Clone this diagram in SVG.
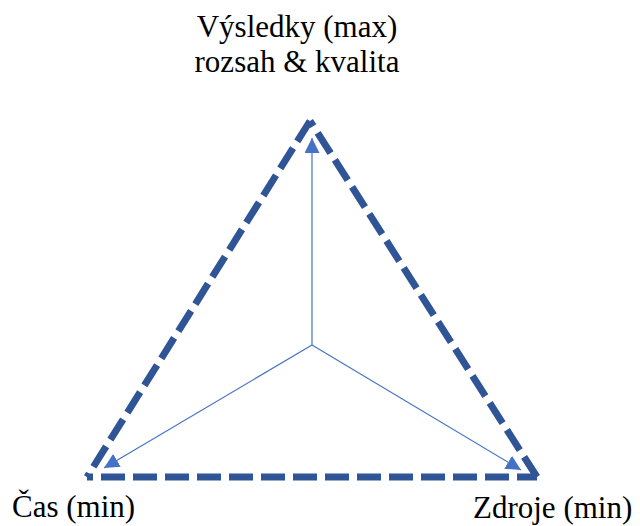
<svg xmlns="http://www.w3.org/2000/svg" width="640" height="526" viewBox="0 0 640 526">
<style>
.lbl{font-family:"Liberation Serif","Times New Roman",serif;font-size:31px;fill:#000}
.tri{fill:none;stroke:#2F5597;stroke-width:7;stroke-dasharray:24 8}
.ax{stroke:#4472C4;stroke-width:1.2;fill:none}
</style>
<defs>
<marker id="ah" viewBox="0 0 10 10" refX="10" refY="5" markerWidth="15" markerHeight="15" markerUnits="userSpaceOnUse" orient="auto">
<path d="M0,0 L10,5 L0,10 Z" fill="#4472C4"/>
</marker>
</defs>
<g id="triangle">
<path class="tri" d="M87,477 L537,477" stroke-dashoffset="18"/>
<path class="tri" d="M537,477 L310,121"/>
<path class="tri" d="M310,121 L87,477"/>
</g>
<g id="connectors">
<line class="ax" x1="312" y1="345" x2="312" y2="138" marker-end="url(#ah)"/>
<line class="ax" x1="312" y1="345" x2="104" y2="468" marker-end="url(#ah)"/>
<line class="ax" x1="312" y1="345" x2="521" y2="470" marker-end="url(#ah)"/>
</g>
<g id="node-vysledky">
<text class="lbl" x="297" y="37" text-anchor="middle">Výsledky (max)</text>
<text class="lbl" x="297" y="72" text-anchor="middle">rozsah &amp; kvalita</text>
</g>
<g id="node-cas">
<text class="lbl" x="12" y="517">Čas (min)</text>
</g>
<g id="node-zdroje">
<text class="lbl" x="473" y="518">Zdroje (min)</text>
</g>
</svg>
